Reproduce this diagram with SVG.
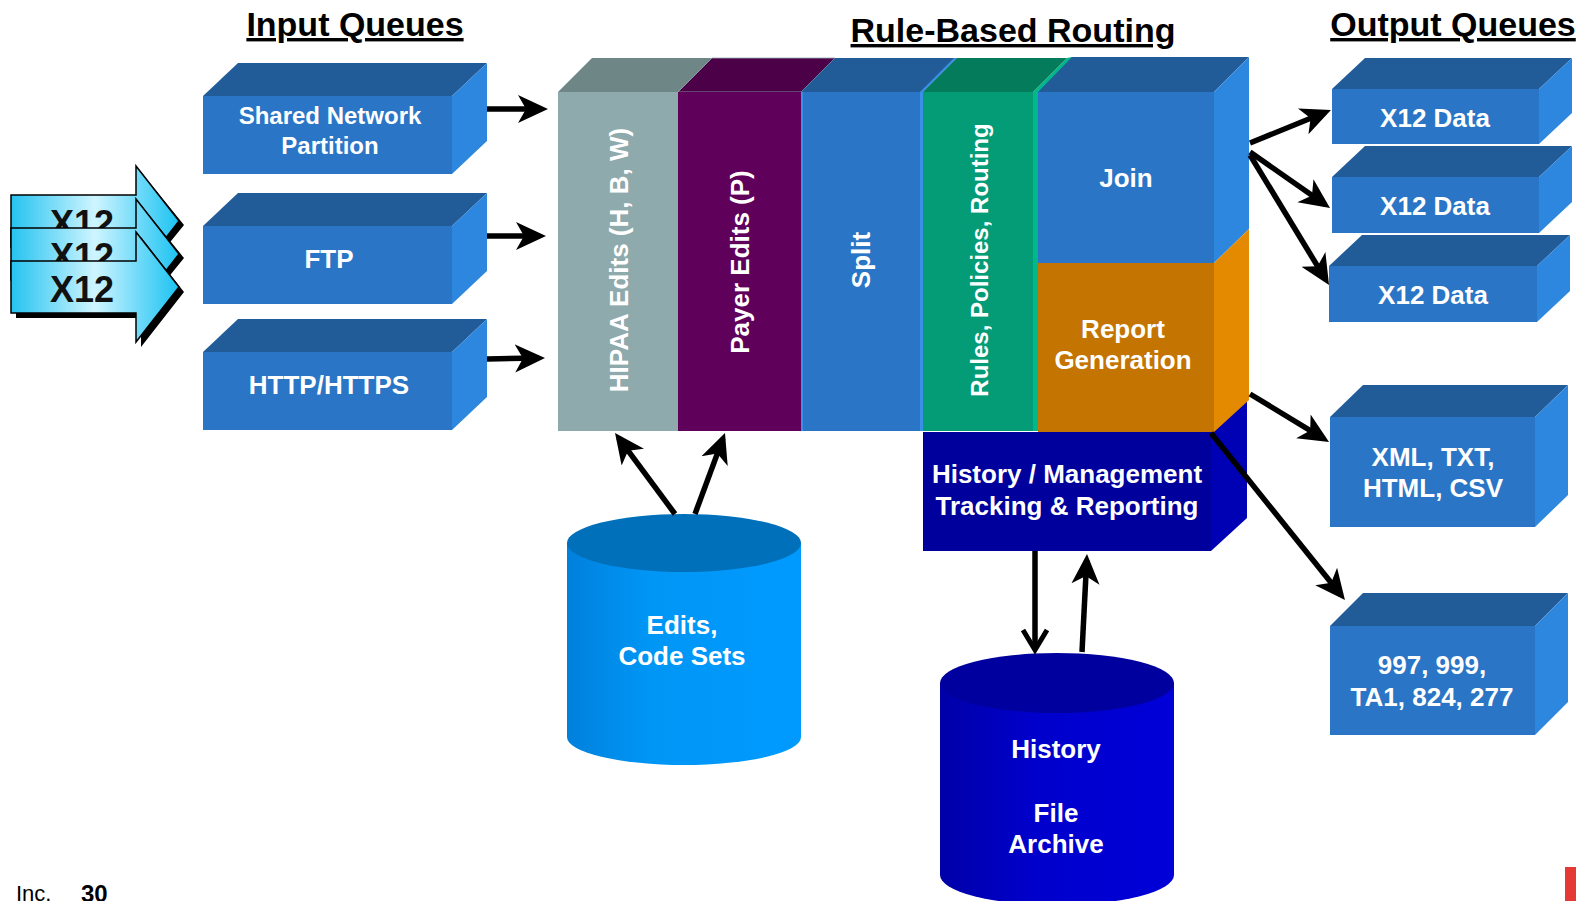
<svg xmlns="http://www.w3.org/2000/svg" width="1585" height="901" viewBox="0 0 1585 901">
<defs>
<style>
text{font-family:"Liberation Sans",Arial,sans-serif;font-weight:bold}
.w{fill:#fff;text-anchor:middle}
.s26{font-size:26px}
.s24{font-size:24px}
.title{font-size:34px;fill:#000;text-anchor:middle;text-decoration:underline}
.front{fill:#2A75C5}
.top{fill:#215C99}
.side{fill:#2E87DE}
.ln{stroke:#000;stroke-width:5.5;fill:none}
.arr{marker-end:url(#head)}
.x12{fill:url(#x12g);stroke:#000;stroke-width:1.5}
.shadow{fill:#000}
.x12t{font-size:36px;fill:#111;text-anchor:middle}
</style>
<linearGradient id="x12g" x1="0" y1="0" x2="1" y2="0">
<stop offset="0" stop-color="#25C3F0"/>
<stop offset="0.5" stop-color="#CFF5FF"/>
<stop offset="0.76" stop-color="#6FDAF9"/>
<stop offset="1" stop-color="#1CC3F2"/>
</linearGradient>
<linearGradient id="edg" x1="0" y1="0" x2="1" y2="0">
<stop offset="0" stop-color="#0080DD"/>
<stop offset="0.35" stop-color="#0096F5"/>
<stop offset="1" stop-color="#009AFF"/>
</linearGradient>
<linearGradient id="hig" x1="0" y1="0" x2="1" y2="0">
<stop offset="0" stop-color="#0000A8"/>
<stop offset="0.4" stop-color="#0000CC"/>
<stop offset="1" stop-color="#0000D8"/>
</linearGradient>
<marker id="head" markerUnits="userSpaceOnUse" viewBox="0 0 30 30" markerWidth="30" markerHeight="30" refX="24" refY="15" orient="auto">
<path d="M0,1 L30,15 L0,29 L8,15 Z" fill="#000"/>
</marker>
<marker id="chev" markerUnits="userSpaceOnUse" viewBox="0 0 30 30" markerWidth="30" markerHeight="30" refX="24" refY="15" orient="auto">
<path d="M4,3 L24,15 L4,27" fill="none" stroke="#000" stroke-width="5"/>
</marker>
</defs>

<rect width="1585" height="901" fill="#fff"/>

<g id="titles">
<text class="title" x="355" y="36">Input Queues</text>
<text class="title" x="1013" y="42">Rule-Based Routing</text>
<text class="title" x="1453" y="36">Output Queues</text>
</g>

<g id="x12-inputs">
<path class="shadow" d="M16,198 H141 V172 L184,225 L141,278 V251 H16 Z"/>
<path class="x12" d="M11,195 H136 V166 L179,221 L136,276 V247 H11 Z"/>
<text class="x12t" x="82" y="236">X12</text>
<path class="shadow" d="M16,231 H141 V205 L184,258 L141,311 V284 H16 Z"/>
<path class="x12" d="M11,228 H136 V199 L179,254 L136,309 V280 H11 Z"/>
<text class="x12t" x="82" y="269">X12</text>
<path class="shadow" d="M16,266 H141 V237 L184,292 L141,347 V318 H16 Z"/>
<path class="x12" d="M11,261 H136 V232 L179,287 L136,342 V313 H11 Z"/>
<text class="x12t" x="82" y="302">X12</text>
</g>

<g id="in-shared">
<polygon class="top" points="203,96 238,63 487,63 452,96"/>
<polygon class="side" points="452,96 487,63 487,141 452,174"/>
<rect class="front" x="203" y="96" width="249" height="78"/>
<text class="w s24" x="330" y="124">Shared Network</text>
<text class="w s24" x="330" y="154">Partition</text>
</g>
<g id="in-ftp">
<polygon class="top" points="203,226 238,193 487,193 452,226"/>
<polygon class="side" points="452,226 487,193 487,271 452,304"/>
<rect class="front" x="203" y="226" width="249" height="78"/>
<text class="w s26" x="329" y="268">FTP</text>
</g>
<g id="in-http">
<polygon class="top" points="203,352 238,319 487,319 452,352"/>
<polygon class="side" points="452,352 487,319 487,397 452,430"/>
<rect class="front" x="203" y="352" width="249" height="78"/>
<text class="w s26" x="329" y="394">HTTP/HTTPS</text>
</g>

<g id="history-mgmt">
<polygon fill="#0000B4" points="1211,432 1247,398 1247,518 1211,551"/>
<rect fill="#00009C" x="923" y="432" width="288" height="119"/>
<text class="w s26" x="1067" y="483">History / Management</text>
<text class="w s26" x="1067" y="515">Tracking &amp; Reporting</text>
</g>

<g id="hipaa">
<polygon fill="#6F8686" points="558,92 592,58 712,58 678,92"/>
<rect fill="#8FAAAC" x="558" y="92" width="120" height="339"/>
<text class="w s26" transform="translate(628,260) rotate(-90)">HIPAA Edits (H, B, W)</text>
</g>
<g id="payer">
<polygon fill="#4B0047" points="678,92 712,58 835,58 801,92" stroke="#8FAAAC" stroke-width="0.8"/>
<rect fill="#5F005A" x="678" y="92" width="123" height="339"/>
<text class="w s26" transform="translate(749,262) rotate(-90)">Payer Edits (P)</text>
</g>
<g id="split">
<polygon class="top" points="801,92 835,58 957,58 923,92"/>
<polygon fill="#3A8FE6" points="920,92 954,58 957,58 923,92"/>
<rect class="front" x="801" y="92" width="120" height="339"/>
<rect fill="#3A8FE6" x="801" y="92" width="2" height="339"/>
<rect fill="#3A8FE6" x="920" y="92" width="3" height="339"/>
<text class="w s26" transform="translate(870,260) rotate(-90)">Split</text>
</g>
<g id="rules">
<polygon fill="#00B88A" points="1033,92 1067,58 1072,57 1072,400 1038,431 1033,431"/>
<polygon fill="#047B5B" points="923,92 957,58 1067,58 1033,92"/>
<rect fill="#039C77" x="923" y="92" width="110" height="339"/>
<text class="w s24" transform="translate(988,260) rotate(-90)">Rules, Policies, Routing</text>
</g>
<g id="join">
<polygon class="top" points="1038,92 1072,57 1249,57 1214,92"/>
<polygon class="side" points="1214,92 1249,57 1249,229 1214,263"/>
<rect class="front" x="1038" y="92" width="176" height="171"/>
<text class="w s26" x="1126" y="187">Join</text>
</g>
<g id="report">
<polygon fill="#E38A00" points="1214,263 1249,229 1249,400 1214,432"/>
<rect fill="#C47400" x="1038" y="263" width="176" height="169"/>
<text class="w s26" x="1123" y="338">Report</text>
<text class="w s26" x="1123" y="369">Generation</text>
</g>

<g id="edits-db">
<ellipse fill="url(#edg)" cx="684" cy="737" rx="117" ry="28"/>
<rect fill="url(#edg)" x="567" y="543" width="234" height="194"/>
<ellipse fill="#0070BA" cx="684" cy="543" rx="117" ry="29"/>
<text class="w s26" x="682" y="634">Edits,</text>
<text class="w s26" x="682" y="665">Code Sets</text>
</g>

<g id="history-db">
<ellipse fill="url(#hig)" cx="1057" cy="875" rx="117" ry="30"/>
<rect fill="url(#hig)" x="940" y="683" width="234" height="192"/>
<ellipse fill="#00009E" cx="1057" cy="683" rx="117" ry="30"/>
<text class="w s26" x="1056" y="758">History</text>
<text class="w s26" x="1056" y="822">File</text>
<text class="w s26" x="1056" y="853">Archive</text>
</g>

<g id="out-x12-1">
<polygon class="top" points="1332,89 1365,58 1572,58 1539,89"/>
<polygon class="side" points="1539,89 1572,58 1572,113 1539,144"/>
<rect class="front" x="1332" y="89" width="207" height="55"/>
<text class="w s26" x="1435" y="127">X12 Data</text>
</g>
<g id="out-x12-2">
<polygon class="top" points="1332,177 1365,146 1572,146 1539,177"/>
<polygon class="side" points="1539,177 1572,146 1572,202 1539,233"/>
<rect class="front" x="1332" y="177" width="207" height="56"/>
<text class="w s26" x="1435" y="215">X12 Data</text>
</g>
<g id="out-x12-3">
<polygon class="top" points="1329,266 1362,235 1570,235 1537,266"/>
<polygon class="side" points="1537,266 1570,235 1570,291 1537,322"/>
<rect class="front" x="1329" y="266" width="208" height="56"/>
<text class="w s26" x="1433" y="304">X12 Data</text>
</g>
<g id="out-xml">
<polygon class="top" points="1330,417 1363,385 1568,385 1535,417"/>
<polygon class="side" points="1535,417 1568,385 1568,495 1535,527"/>
<rect class="front" x="1330" y="417" width="205" height="110"/>
<text class="w s26" x="1433" y="466">XML, TXT,</text>
<text class="w s26" x="1433" y="497">HTML, CSV</text>
</g>
<g id="out-ack">
<polygon class="top" points="1330,626 1363,593 1568,593 1535,626"/>
<polygon class="side" points="1535,626 1568,593 1568,702 1535,735"/>
<rect class="front" x="1330" y="626" width="205" height="109"/>
<text class="w s26" x="1432" y="674">997, 999,</text>
<text class="w s26" x="1432" y="706">TA1, 824, 277</text>
</g>

<g id="connectors">
<line class="ln arr" x1="487" y1="109" x2="542" y2="109"/>
<line class="ln arr" x1="487" y1="236" x2="540" y2="236"/>
<line class="ln arr" x1="487" y1="359" x2="539" y2="358"/>
<line class="ln arr" x1="675" y1="514" x2="618.6" y2="437.8"/>
<line class="ln arr" x1="695" y1="514" x2="722.9" y2="438.6"/>
<line class="ln" style="marker-end:url(#chev)" x1="1035" y1="551" x2="1035" y2="650"/>
<line class="ln arr" x1="1082" y1="652" x2="1086.7" y2="560"/>
<line class="ln arr" x1="1250" y1="143" x2="1325.4" y2="112.3"/>
<line class="ln arr" x1="1250" y1="152" x2="1325.1" y2="204.6"/>
<line class="ln arr" x1="1250" y1="155" x2="1325.9" y2="279.9"/>
<line class="ln arr" x1="1250" y1="394" x2="1323.9" y2="438.8"/>
<line class="ln arr" x1="1211" y1="433" x2="1341.2" y2="595.3"/>
</g>

<g id="footer">
<text x="16" y="901" style="font-size:22px;font-weight:normal;fill:#000">Inc.</text>
<text x="81" y="902" style="font-size:24px;fill:#000">30</text>
<rect x="1565" y="867" width="11" height="34" fill="#E53935"/>
</g>
</svg>
